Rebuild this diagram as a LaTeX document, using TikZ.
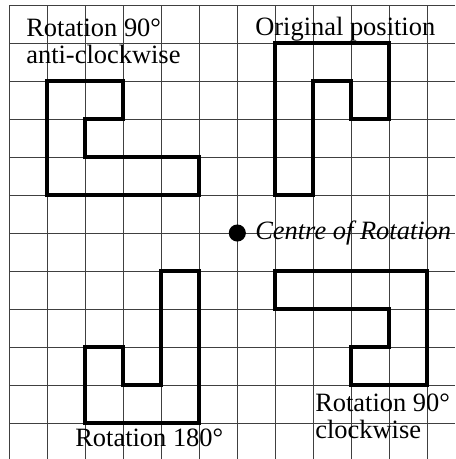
\documentclass[tikz,border=0pt]{standalone}
\usepackage{fontspec}
\setmainfont{Liberation Serif}
\usepackage{tikz}
\usetikzlibrary{positioning}
\tikzset{
  gridline/.style={draw=black!75, line width=0.6pt},
  outline/.style={draw=black, line width=2.8pt, line join=miter},
  lbl/.style={inner sep=0pt, anchor=base west, align=left,
              font=\fontsize{19.8}{19.9}\selectfont},
  pivot/.style={circle, fill=black, inner sep=0pt, minimum size=0.45cm}
}
\begin{document}
\begin{tikzpicture}[x=1cm, y=1cm]
\useasboundingbox (-6.245,-5.947) rectangle (5.729,6.132);
% grid
\foreach \i in {-6,...,5} \draw[gridline] (\i,6) -- (\i,-5.947);
\foreach \j in {-5,...,6} \draw[gridline] (-6,\j) -- (5.729,\j);
% the four positions
\draw[outline] (1,5) -- (4,5) -- (4,3) -- (3,3) -- (3,4) -- (2,4) -- (2,1) -- (1,1) -- cycle;
\draw[outline] (5,-1) -- (5,-4) -- (3,-4) -- (3,-3) -- (4,-3) -- (4,-2) -- (1,-2) -- (1,-1) -- cycle;
\draw[outline] (-1,-5) -- (-4,-5) -- (-4,-3) -- (-3,-3) -- (-3,-4) -- (-2,-4) -- (-2,-1) -- (-1,-1) -- cycle;
\draw[outline] (-5,1) -- (-5,4) -- (-3,4) -- (-3,3) -- (-4,3) -- (-4,2) -- (-1,2) -- (-1,1) -- cycle;
% labels (base = last line)
\node[pivot] (centre) at (0,0) {};
\node[lbl, font=\fontsize{19.8}{19.9}\selectfont\itshape] (ctxt) at (0.466,-0.166) {Centre of Rotation};
\node[lbl] (orig) at (0.466,5.2) {Original position};
\node[lbl] (acw) at (-5.56,4.466) {Rotation 90°\\anti-clockwise};
\node[lbl] (cw) at (2.045,-5.40) {Rotation 90°\\clockwise};
\node[lbl] (half) at (-4.27,-5.62) {Rotation 180°};
\end{tikzpicture}
\end{document}
